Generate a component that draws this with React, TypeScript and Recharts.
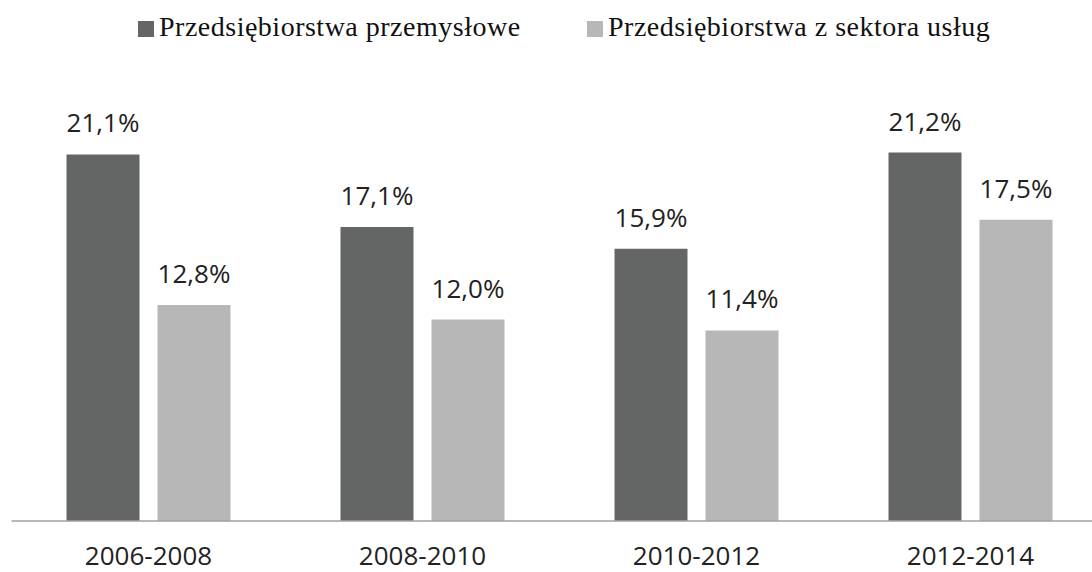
import { BarChart, Bar, XAxis, YAxis, Legend, LabelList } from "recharts"

const periods = ["2006-2008", "2008-2010", "2010-2012", "2012-2014"]
const industrial = [21.1, 17.1, 15.9, 21.2]
const services = [12.8, 12.0, 11.4, 17.5]

const data = periods.map((period, i) => ({
  period,
  industrial: industrial[i],
  services: services[i],
}))

const fmt = (v: any) => `${Number(v).toFixed(1).replace(".", ",")}%`

const legendLefts = [138, 587]

function LegendContent({ payload }: any) {
  return (
    <div style={{ position: "relative", width: 1092, height: 50 }}>
      {(payload || []).map((entry: any, i: number) => (
        <div key={i} style={{ position: "absolute", left: legendLefts[i], top: 0 }}>
          <div
            style={{
              position: "absolute",
              left: 0,
              top: 21,
              width: 16,
              height: 16,
              background: entry.color,
            }}
          />
          <span
            style={{
              position: "absolute",
              left: 21,
              top: 13,
              whiteSpace: "nowrap",
              fontFamily: "'Liberation Serif', serif",
              fontSize: 28,
              lineHeight: "28px",
              letterSpacing: 0.5,
              color: "#111",
            }}
          >
            {entry.value}
          </span>
        </div>
      ))}
    </div>
  )
}

export default function App() {
  return (
    <div style={{ position: "absolute", left: 0, top: 0, width: 1092, height: 572, overflow: "hidden", background: "#fff" }}>
      <BarChart
        width={1108}
        height={572}
        data={data}
        margin={{ top: 83.6, right: 0.5, bottom: 0, left: 11.5 }}
        barSize={73}
        barGap={18}
      >
        <XAxis
          dataKey="period"
          height={51}
          tickLine={false}
          tickSize={0}
          tickMargin={26}
          axisLine={{ stroke: "#a0a0a0", strokeWidth: 1.5 }}
          tick={{ fill: "#222", fontSize: 26, fontFamily: "'Open Sans', sans-serif" }}
        />
        <YAxis hide domain={[0.9, 25]} />
        <Legend
          layout="horizontal"
          verticalAlign="middle"
          align="center"
          wrapperStyle={{ top: 0, left: 0, width: 1092, height: 50 }}
          content={<LegendContent />}
        />
        <Bar dataKey="industrial" name="Przedsiębiorstwa przemysłowe" fill="#646665" isAnimationActive={false}>
          <LabelList
            dataKey="industrial"
            position="top"
            offset={22}
            formatter={fmt}
            style={{ fill: "#222", fontSize: 26, fontFamily: "'Open Sans', sans-serif" }}
          />
        </Bar>
        <Bar dataKey="services" name="Przedsiębiorstwa z sektora usług" fill="#b7b7b7" isAnimationActive={false}>
          <LabelList
            dataKey="services"
            position="top"
            offset={22}
            formatter={fmt}
            style={{ fill: "#222", fontSize: 26, fontFamily: "'Open Sans', sans-serif" }}
          />
        </Bar>
      </BarChart>
    </div>
  )
}
